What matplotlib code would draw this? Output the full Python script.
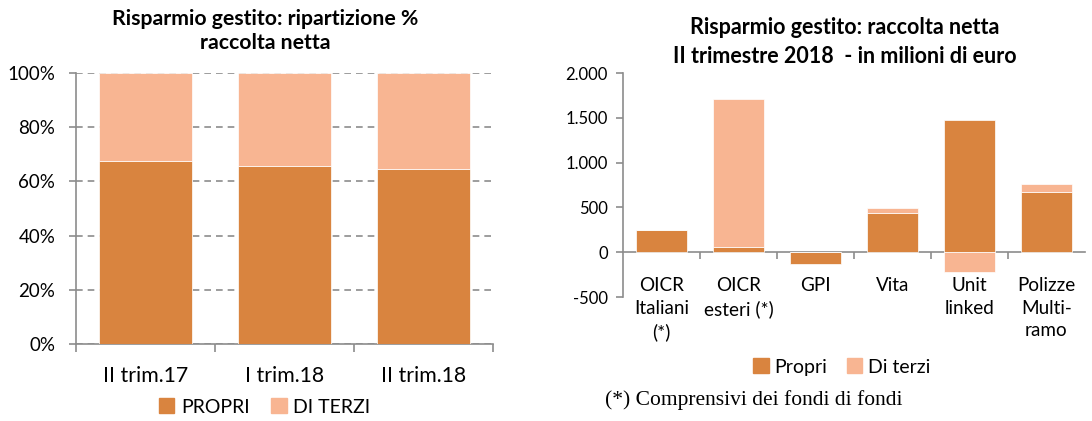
import numpy as np
import matplotlib
matplotlib.use("Agg")
import matplotlib.pyplot as plt
from matplotlib.patches import Patch
from matplotlib.ticker import FixedLocator

plt.rcParams["font.family"] = ["Lato", "DejaVu Sans"]

PROPRI_C = "#D9843F"
TERZI_C = "#F8B592"
GRID_C = "#8C8C8C"

# left chart: share of net inflows
periods = ["II trim.17", "I trim.18", "II trim.18"]
share_propri = [67.6, 65.8, 64.6]
share_terzi = [100 - v for v in share_propri]

# right chart: net inflows, millions of euro
products = ["OICR\nItaliani\n(*)", "OICR\nesteri (*)", "GPI", "Vita", "Unit\nlinked", "Polizze\nMulti-\nramo"]
flow_propri = [252, 62, -135, 442, 1477, 673]
flow_terzi = [0, 1650, 0, 56, -223, 93]

fig = plt.figure(figsize=(10.92, 4.21), dpi=100)

# ---- left
ax1 = fig.add_axes([0.0696, 0.1829, 0.382, 0.6437])
x = np.arange(len(periods))
ax1.bar(x, share_propri, width=0.67, color=PROPRI_C, edgecolor="white", linewidth=0.5, zorder=3)
ax1.bar(x, share_terzi, bottom=share_propri, width=0.67, color=TERZI_C,
        edgecolor="white", linewidth=0.5, zorder=3)
ax1.set_xlim(-0.5, len(periods) - 0.5)
ax1.set_ylim(0, 100)
ax1.set_yticks(np.arange(0, 101, 20))
ax1.set_yticklabels([f"{v}%" for v in range(0, 101, 20)], fontsize=13.5)
ax1.yaxis.grid(True, linestyle=(0, (4, 3)), color=GRID_C, linewidth=1.2, zorder=0)
ax1.set_xticks(x)
ax1.set_xticklabels(periods, fontsize=15.3)
ax1.xaxis.set_minor_locator(FixedLocator(np.arange(-0.5, len(periods), 1)))
ax1.tick_params(axis="x", which="major", length=0, pad=16)
ax1.tick_params(axis="x", which="minor", length=6, color=GRID_C, width=1.2)
ax1.tick_params(axis="y", length=5, color=GRID_C, width=1.2, pad=10)
for s in ["top", "right"]:
    ax1.spines[s].set_visible(False)
for s in ["left", "bottom"]:
    ax1.spines[s].set_color(GRID_C)
    ax1.spines[s].set_linewidth(1.2)
fig.text(0.2427, 1 - 31 / 421, "Risparmio gestito: ripartizione %\nraccolta netta", fontsize=15.3,
         fontweight="bold", ha="center", va="center", linespacing=1.25)
fig.legend(handles=[Patch(color=PROPRI_C, label="PROPRI"), Patch(color=TERZI_C, label="DI TERZI")],
           loc="center", bbox_to_anchor=(0.2423, 1 - 407 / 421), ncol=2, frameon=False,
           fontsize=14, handlelength=0.8, handleheight=0.8, handletextpad=0.35, columnspacing=1.1)

# ---- right
ax2 = fig.add_axes([0.5705, 0.2945, 0.423, 0.532])
xr = np.arange(len(products))
fp = np.array(flow_propri, dtype=float)
ft = np.array(flow_terzi, dtype=float)
bottom_t = np.where(ft >= 0, np.maximum(fp, 0), np.minimum(fp, 0))
ax2.bar(xr, fp, width=0.67, color=PROPRI_C, edgecolor="white", linewidth=0.5, zorder=3)
ax2.bar(xr, ft, bottom=bottom_t, width=0.67, color=TERZI_C, edgecolor="white", linewidth=0.5, zorder=3)
ax2.set_xlim(-0.5, len(products) - 0.5)
ax2.set_ylim(-500, 2000)
ax2.set_yticks(np.arange(-500, 2001, 500))
ax2.set_yticklabels(["-500", "0", "500", "1.000", "1.500", "2.000"], fontsize=12)
ax2.spines["bottom"].set_position(("data", 0))
ax2.set_xticks(xr)
ax2.set_xticklabels(products, fontsize=13.6, linespacing=1.4, va="top")
ax2.xaxis.set_minor_locator(FixedLocator(np.arange(0.5, len(products) - 0.5, 1)))
ax2.tick_params(axis="x", which="major", length=0, pad=18)
ax2.tick_params(axis="x", which="minor", length=5, color=GRID_C, width=1.2)
ax2.tick_params(axis="y", length=5, color=GRID_C, width=1.2, pad=6)
for s in ["top", "right"]:
    ax2.spines[s].set_visible(False)
for s in ["left", "bottom"]:
    ax2.spines[s].set_color(GRID_C)
    ax2.spines[s].set_linewidth(1.2)
fig.text(0.7738, 1 - 42 / 421, "Risparmio gestito: raccolta netta\nII trimestre 2018  - in milioni di euro",
         fontsize=15.5, fontweight="bold", ha="center", va="center", linespacing=1.5)
fig.legend(handles=[Patch(color=PROPRI_C, label="Propri"), Patch(color=TERZI_C, label="Di terzi")],
           loc="center", bbox_to_anchor=(0.771, 1 - 367 / 421), ncol=2, frameon=False,
           fontsize=14, handlelength=0.8, handleheight=0.8, handletextpad=0.3, columnspacing=1.0)

fig.text(0.554, 1 - 400 / 421, "(*) Comprensivi dei fondi di fondi", fontsize=15.5, va="center",
         family=["Liberation Serif", "DejaVu Serif"])

fig.savefig("out.png", dpi=100)
